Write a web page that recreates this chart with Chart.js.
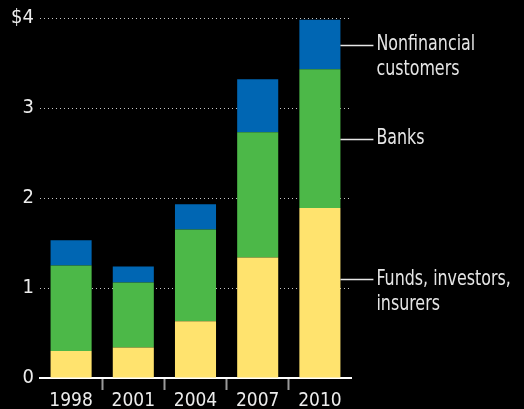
<!DOCTYPE html>
<html>
<head>
<meta charset="utf-8">
<script src="https://cdn.jsdelivr.net/npm/chart.js@4"></script>
<style>
  html, body { margin: 0; padding: 0; background: #000; }
  canvas { display: block; }
</style>
</head>
<body>
<canvas id="myChart" width="524" height="409"></canvas>
<script>
// Stacked bars, trillions of dollars
const years = ['1998', '2001', '2004', '2007', '2010'];
const funds = [0.30, 0.34, 0.63, 1.34, 1.89];
const banks = [0.95, 0.72, 1.02, 1.39, 1.54];
const nonfinancial = [0.28, 0.18, 0.28, 0.59, 0.55];
const yTickLabels = ['0', '1', '2', '3', '$4'];
const seriesNames = [
    ['Funds, investors,', 'insurers'],
    ['Banks'],
    ['Nonfinancial', 'customers']
];

const FONT = "'DejaVu Sans Condensed', 'Liberation Sans Narrow', 'Roboto', sans-serif";

// where the callout line meets each segment of the last bar (0 = bottom, 1 = top)
const anchorAt = [0.58, 0.5, 0.5];

const calloutPlugin = {
    id: 'callouts',
    afterDatasetsDraw(chart) {
        const ctx = chart.ctx;
        ctx.save();
        chart.data.datasets.forEach((ds, i) => {
            const meta = chart.getDatasetMeta(i);
            const bar = meta.data[meta.data.length - 1];
            const x0 = bar.x + bar.width / 2;
            const y = bar.base + (bar.y - bar.base) * anchorAt[i];
            ctx.strokeStyle = '#e6e6e6';
            ctx.lineWidth = 1.5;
            ctx.beginPath();
            ctx.moveTo(x0, Math.round(y) + 0.5);
            ctx.lineTo(x0 + 33, Math.round(y) + 0.5);
            ctx.stroke();
            ctx.fillStyle = '#e6e6e6';
            ctx.font = '21px ' + FONT;
            ctx.textBaseline = 'middle';
            ctx.textAlign = 'left';
            seriesNames[i].forEach((line, k) => {
                // squeeze the text a little to mimic the narrow original face
                ctx.save();
                ctx.translate(x0 + 36, y + k * 25);
                ctx.scale(0.84, 1);
                ctx.fillText(line, 0, 0);
                ctx.restore();
            });
        });
        ctx.restore();
    }
};

const ctx = document.getElementById('myChart').getContext('2d');

new Chart(ctx, {
    type: 'bar',
    data: {
        labels: years,
        datasets: [
            { label: 'Funds, investors, insurers', data: funds, backgroundColor: '#ffe36e' },
            { label: 'Banks', data: banks, backgroundColor: '#4cb848' },
            { label: 'Nonfinancial customers', data: nonfinancial, backgroundColor: '#0066b3' }
        ]
    },
    options: {
        responsive: false,
        animation: false,
        layout: { padding: { top: 17, right: 173, left: 0, bottom: 0 } },
        datasets: {
            bar: { barPercentage: 0.66, categoryPercentage: 1, borderWidth: 0 }
        },
        plugins: {
            legend: { display: false },
            tooltip: { enabled: false }
        },
        scales: {
            x: {
                stacked: true,
                afterFit: scale => { scale.height = 31; },
                border: { color: '#ffffff', width: 2 },
                grid: {
                    offset: true,
                    drawOnChartArea: false,
                    drawTicks: true,
                    tickLength: 12,
                    tickWidth: 2,
                    // no tick marks at the two ends of the axis
                    tickColor: c => (c.type !== 'tick' || c.index === 0) ? 'rgba(0,0,0,0)' : '#9a9a9a'
                },
                ticks: {
                    color: '#ececec',
                    padding: 0,
                    font: { family: FONT, size: 19 }
                }
            },
            y: {
                stacked: true,
                min: 0,
                max: 4,
                afterFit: scale => { scale.width = 40; },
                border: { display: false, dash: [1, 3] },
                grid: {
                    color: '#c8c8c8',
                    lineWidth: 1,
                    drawTicks: false
                },
                ticks: {
                    stepSize: 1,
                    color: '#ececec',
                    padding: 6,
                    font: { family: FONT, size: 20 },
                    callback: (v) => yTickLabels[v]
                }
            }
        }
    },
    plugins: [calloutPlugin]
});
</script>
</body>
</html>
